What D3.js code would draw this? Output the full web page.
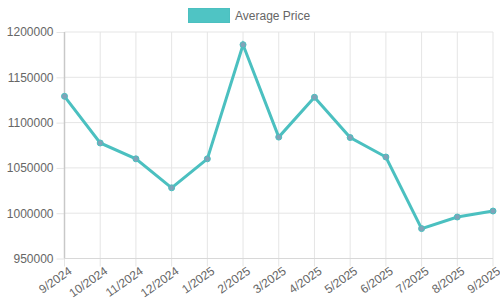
<!DOCTYPE html>
<html>
<head>
<meta charset="utf-8">
<script src="https://cdn.jsdelivr.net/npm/d3@7/dist/d3.min.js"></script>
<style>
  body { margin: 0; background: #fff; }
  svg { display: block; }
</style>
</head>
<body>
<script>
// chart data
var months = ["9/2024", "10/2024", "11/2024", "12/2024", "1/2025", "2/2025", "3/2025",
              "4/2025", "5/2025", "6/2025", "7/2025", "8/2025", "9/2025"];
var prices = [1129000, 1077500, 1060000, 1028000, 1060000, 1186000, 1084000,
              1128000, 1083500, 1062000, 983000, 995800, 1002400];
var yTicks = [950000, 1000000, 1050000, 1100000, 1150000, 1200000];
var seriesName = "Average Price";

var w = 500, h = 300;
var plotL = 64.5, plotR = 493, plotT = 32, plotB = 258.5;
var lineColor = "#4bc0c0";
var font = "'Liberation Sans', Arial, sans-serif";

var svg = d3.select("body").append("svg")
    .attr("width", w)
    .attr("height", h);

var x = d3.scalePoint().domain(months).range([plotL, plotR]);
var y = d3.scaleLinear().domain([950000, 1200000]).range([plotB, plotT]);

// horizontal grid + y ticks
var yAxis = d3.axisLeft(y).tickValues(yTicks).tickSize(8).tickPadding(3)
    .tickFormat(d3.format("d"));
var gy = svg.append("g").attr("transform", "translate(" + plotL + ",0)").call(yAxis);
gy.select(".domain").remove();
gy.selectAll(".tick line").attr("stroke", "#e5e5e5");
gy.selectAll(".tick text").attr("fill", "#666").style("font", "12px " + font);

svg.append("g").selectAll("line")
    .data(yTicks)
    .enter().append("line")
    .attr("x1", plotL).attr("x2", plotR)
    .attr("y1", function(d) { return y(d); })
    .attr("y2", function(d) { return y(d); })
    .attr("stroke", "#e5e5e5");

// vertical grid + x ticks
svg.append("g").selectAll("line")
    .data(months)
    .enter().append("line")
    .attr("x1", function(d) { return x(d); })
    .attr("x2", function(d) { return x(d); })
    .attr("y1", plotT).attr("y2", plotB + 8)
    .attr("stroke", "#e5e5e5");

svg.append("g").selectAll("text")
    .data(months)
    .enter().append("text")
    .text(function(d) { return d; })
    .attr("text-anchor", "end")
    .attr("transform", function(d) {
        return "translate(" + (x(d) + 3) + "," + (plotB + 7) + ") rotate(-35)";
    })
    .attr("dy", "0.75em")
    .attr("fill", "#666")
    .style("font", "12px " + font);

// axis lines
svg.append("line")
    .attr("x1", plotL).attr("x2", plotL).attr("y1", plotT).attr("y2", plotB)
    .attr("stroke", "#c8c8c8").attr("stroke-width", 1.5);
svg.append("line")
    .attr("x1", plotL).attr("x2", plotR).attr("y1", plotB).attr("y2", plotB)
    .attr("stroke", "#d8d8d8");

// line
var line = d3.line()
    .x(function(d, i) { return x(months[i]); })
    .y(function(d) { return y(d); });

svg.append("path")
    .datum(prices)
    .attr("d", line)
    .attr("fill", "none")
    .attr("stroke", lineColor)
    .attr("stroke-width", 3)
    .attr("stroke-linejoin", "miter");

svg.append("g").selectAll("circle")
    .data(prices)
    .enter().append("circle")
    .attr("cx", function(d, i) { return x(months[i]); })
    .attr("cy", function(d) { return y(d); })
    .attr("r", 3)
    .attr("fill", "#7fa3b8")
    .attr("stroke", lineColor)
    .attr("stroke-width", 1);

// legend
var legend = svg.append("g");
legend.append("rect")
    .attr("x", 188.5).attr("y", 8.5).attr("width", 41).attr("height", 14)
    .attr("fill", "#4fc4c4").attr("stroke", lineColor).attr("stroke-width", 1);
legend.append("text")
    .attr("x", 235).attr("y", 20)
    .text(seriesName)
    .attr("fill", "#666")
    .style("font", "12px " + font);
</script>
</body>
</html>
